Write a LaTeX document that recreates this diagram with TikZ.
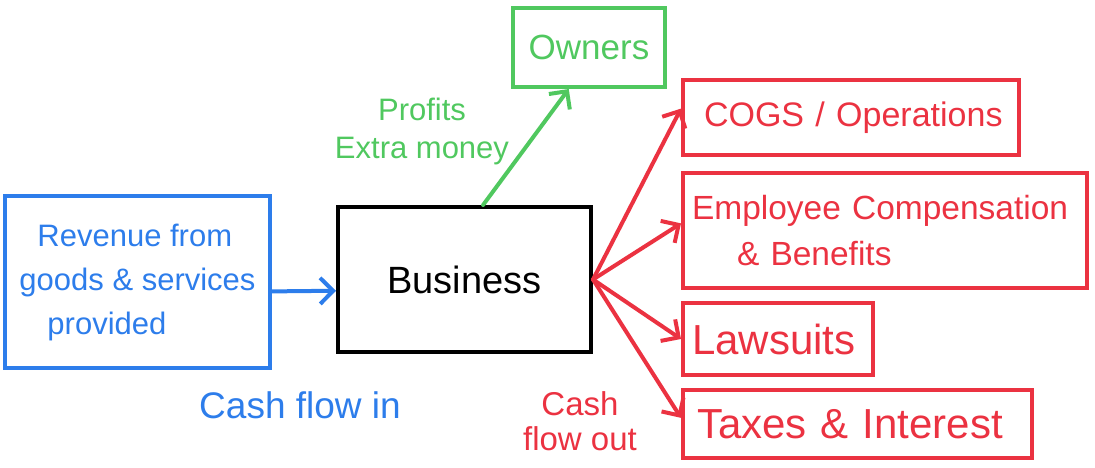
\documentclass[tikz,border=0pt]{standalone}
\usepackage{fontspec}
\setmainfont{Liberation Sans}
\usetikzlibrary{arrows.meta}

\definecolor{flowblue}{RGB}{45,125,235}
\definecolor{flowgreen}{RGB}{80,200,95}
\definecolor{flowred}{RGB}{235,50,65}

\begin{document}
\begin{tikzpicture}[x=1pt, y=-1pt,
  box/.style = {draw, line width=4pt, inner sep=0pt, align=left,
    font=\fontsize{31}{44}\selectfont},
  costbox/.style = {draw, flowred, line width=4pt, inner xsep=9pt, inner ysep=0pt,
    align=left},
  flow/.style = {line width=4pt, line cap=round,
    -{Straight Barb[length=13pt, width=26pt, line width=4pt]}},
  label/.style = {align=center, font=\fontsize{31}{38}\selectfont}]

  \useasboundingbox (0,0) rectangle (1095,468);

  % draw boxes
  \node[box, flowblue, minimum width=265pt, minimum height=172pt] (rev) at (137.5,282)
    {\hspace{18pt}Revenue from\\goods \& services\\\hspace{28pt}provided};
  \node[box, black, minimum width=253pt, minimum height=145pt,
    font=\fontsize{38}{44}\selectfont] (biz) at (464.5,279.5) {Business};
  \node[box, flowgreen, minimum width=152pt, minimum height=79pt,
    font=\fontsize{35}{44}\selectfont] (own) at (589,47.5) {Owners};
  \node[costbox, text width=318pt, minimum height=75pt,
    font=\fontsize{34}{44}\selectfont] (cogs) at (851,117.5) {\hspace{12pt}COGS / Operations};
  \node[costbox, text width=386pt, minimum height=115pt,
    font=\fontsize{33.5}{46}\selectfont] (emp) at (885,230.5)
    {Employee Compensation\\\hspace{45pt}\& Benefits};
  \node[costbox, text width=172pt, minimum height=72pt,
    font=\fontsize{42}{44}\selectfont] (law) at (778,339) {Lawsuits};
  \node[costbox, text width=331pt, minimum height=68pt,
    font=\fontsize{42}{44}\selectfont] (tax) at (857.5,424) {\hspace{5pt}Taxes \& Interest};

  % draw flows
  \draw[flow, flowblue] (rev.-4) -- (biz.185.6);
  \draw[flow, flowgreen] (biz.76) -- (own.244);
  \foreach \dest/\ang in {cogs/177, emp/178, law/180, tax/178}
    \draw[flow, flowred] (biz.east) -- (\dest.\ang);

  % label flows
  \node[label, flowblue, font=\fontsize{37}{40}\selectfont] (inlbl) at (300,405) {Cash flow in};
  \node[label, flowgreen] (profitlbl) at (422,131) {Profits\\Extra money};
  \node[label, flowred, font=\fontsize{33}{35}\selectfont] (outlbl) at (580,421) {Cash\\flow out};
\end{tikzpicture}
\end{document}
